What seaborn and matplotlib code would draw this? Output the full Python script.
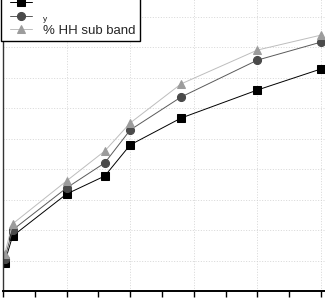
import matplotlib
matplotlib.use("Agg")
import matplotlib.pyplot as plt
import seaborn as sns
import pandas as pd
from matplotlib.ticker import MultipleLocator, NullFormatter
from matplotlib.legend_handler import HandlerLine2D
from matplotlib.lines import Line2D

x_vals = [0.5, 3, 20, 32, 40, 56, 80, 100]
s1 = [9.2, 18.0, 31.8, 37.7, 47.9, 56.7, 65.9, 72.8]
s2 = [10.5, 20.0, 33.8, 42.0, 52.8, 63.6, 75.7, 81.6]
s3 = [12.1, 22.0, 36.1, 45.9, 55.1, 67.9, 79.0, 83.9]
labels = [" ", "y", "% HH sub band"]

sns.set_style("white")
plt.rcParams['font.family'] = ['Liberation Sans', 'DejaVu Sans']

W, H = 325, 298
fig = plt.figure(figsize=(W / 100, H / 100), dpi=100)
# axes extends beyond image on top and right (cropped chart)
x0px, y0px = 3, 291
px_per_x = 63.6 / 20
px_per_y = 30.5 / 10
xmax, ymax = 110, 100
ax = fig.add_axes([x0px / W, (H - y0px) / H, xmax * px_per_x / W, ymax * px_per_y / H])

df = pd.DataFrame({"x": x_vals * 3,
                   "y": s1 + s2 + s3,
                   "series": [labels[0]] * 8 + [labels[1]] * 8 + [labels[2]] * 8})

styles = [
    dict(color="#000000", marker="s", mec="#000000", mfc="#000000", ms=5.3),
    dict(color="#5a5a5a", marker="o", mec="#4a4a4a", mfc="#4a4a4a", ms=5.8),
    dict(color="#bdbdbd", marker="^", mec="#9c9c9c", mfc="#9c9c9c", ms=6.3),
]
for lab, st in zip(labels, styles):
    sub = df[df["series"] == lab]
    sns.lineplot(data=sub, x="x", y="y", ax=ax, color=st["color"], lw=0.7,
                 marker=st["marker"], markersize=st["ms"], markeredgecolor=st["mec"],
                 markerfacecolor=st["mfc"], label=lab, legend=False)

ax.set_xlim(0, xmax)
ax.set_ylim(0, ymax)
ax.xaxis.set_major_locator(MultipleLocator(20))
ax.xaxis.set_minor_locator(MultipleLocator(10))
ax.yaxis.set_major_locator(MultipleLocator(10))
ax.xaxis.set_major_formatter(NullFormatter())
ax.yaxis.set_major_formatter(NullFormatter())
ax.tick_params(axis="x", which="both", direction="out", length=4, width=1, bottom=True, color="black")
ax.tick_params(axis="y", which="both", left=False)
ax.set_xlabel("")
ax.set_ylabel("")
ax.grid(True, which="major", linestyle=(0, (1.2, 2.0)), color="#d0d0d0", lw=0.6)
for sp in ["top", "right"]:
    ax.spines[sp].set_visible(False)
ax.spines["bottom"].set_linewidth(1.4)
ax.spines["bottom"].set_color("black")
ax.spines["left"].set_linewidth(1.0)
ax.spines["left"].set_color("#333333")

handles, labs = ax.get_legend_handles_labels()
fs = 9.5
leg = fig.legend(handles, labs, loc="lower left", bbox_to_anchor=(1 / W, (H - 41) / H),
                 frameon=True, fancybox=False, edgecolor="black", framealpha=1,
                 fontsize=fs, handlelength=2.05, handletextpad=0.85, labelspacing=0.15,
                 borderpad=0.3, borderaxespad=0,
                 handler_map={Line2D: HandlerLine2D(xpad=0.4)})
leg.get_frame().set_linewidth(1.0)
leg.get_texts()[1].set_fontsize(6)

fig.savefig("out.png", dpi=100)
